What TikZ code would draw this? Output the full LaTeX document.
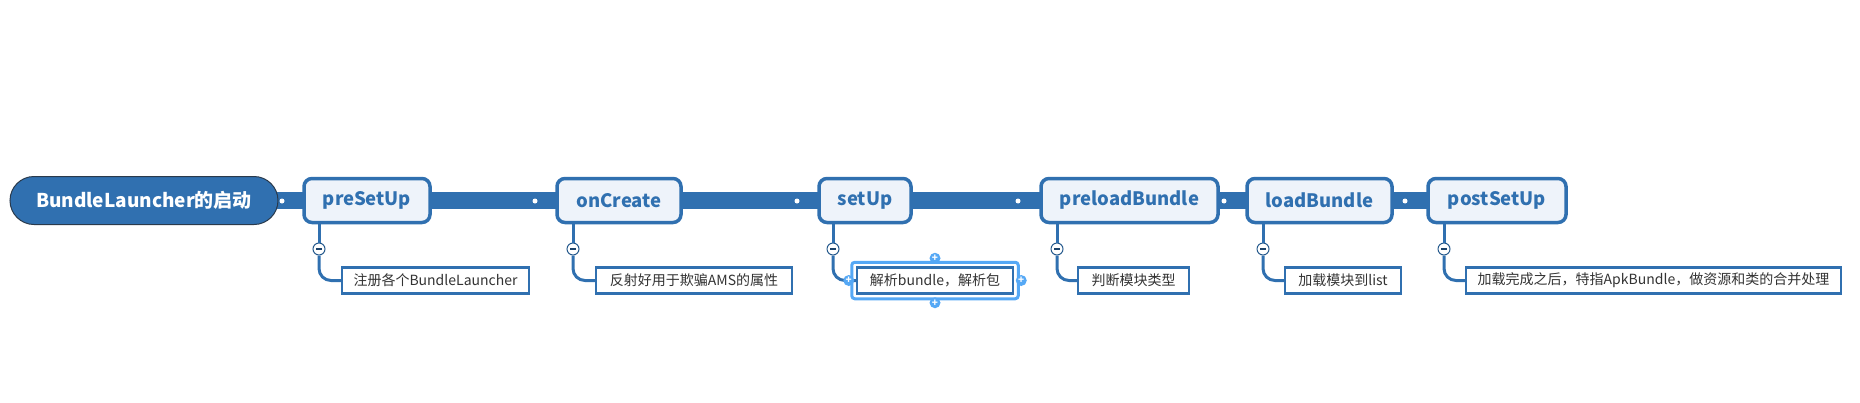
\documentclass[tikz,border=0pt]{standalone}
\usepackage{fontspec}
\setmainfont{Noto Sans CJK SC}
\usetikzlibrary{backgrounds}

\definecolor{mapblue}{HTML}{3070B0}
\definecolor{topicfill}{HTML}{EEF3FA}
\definecolor{rootline}{HTML}{2A3A4C}
\definecolor{subtext}{HTML}{333333}
\definecolor{selblue}{HTML}{55A8F5}

\tikzset{
  root/.style={draw=rootline, line width=1pt, fill=mapblue, text=white,
    font=\bfseries\fontsize{19}{22}\selectfont, rounded corners=24pt,
    minimum height=48pt, minimum width=268pt, inner sep=0pt},
  topic/.style={draw=mapblue, line width=3.5pt, fill=topicfill, text=mapblue,
    font=\bfseries\fontsize{18.5}{22}\selectfont, rounded corners=8pt,
    minimum height=44pt, inner sep=0pt},
  subtopic/.style={draw=mapblue, line width=2.5pt, fill=white, text=subtext,
    font=\fontsize{14}{17}\selectfont, minimum height=26pt, inner sep=0pt},
  trunk/.style={mapblue, line width=17pt},
  branch/.style={mapblue, line width=3pt, rounded corners=12pt},
  fold/.style={circle, draw=mapblue!80!black, line width=1pt, fill=white,
    minimum size=12pt, inner sep=0pt, text=mapblue!60!black},
  joint/.style={circle, fill=white, minimum size=5pt, inner sep=0pt},
  handle/.style={circle, fill=selblue, text=white,
    font=\bfseries\fontsize{10}{10}\selectfont, minimum size=11pt, inner sep=0pt}
}

\begin{document}
\begin{tikzpicture}[x=1pt, y=-1pt]
    \useasboundingbox (0,0) rectangle (1860,402);

    % Central topic and main topics
    \node[root] (root) at (144,200.5) {BundleLauncher的启动};
    \node[topic, minimum width=126pt] (pre) at (367,200.5) {preSetUp};
    \node[topic, minimum width=124pt] (onc) at (619,200.5) {onCreate};
    \node[topic, minimum width=92pt] (set) at (865,200.5) {setUp};
    \node[topic, minimum width=177pt] (prl) at (1129.5,200.5) {preloadBundle};
    \node[topic, minimum width=145pt] (lod) at (1319.5,200.5) {loadBundle};
    \node[topic, minimum width=138pt] (post) at (1497,200.5) {postSetUp};

    % Trunk behind the topics
    \begin{pgfonlayer}{background}
        \draw[trunk] (root.center) -- (post.center);
    \end{pgfonlayer}
    \node[joint] (j1) at (282,201) {};
    \node[joint] (j2) at (535,201) {};
    \node[joint] (j3) at (797,201) {};
    \node[joint] (j4) at (1018,201) {};
    \node[joint] (j5) at (1224,201) {};
    \node[joint] (j6) at (1405,201) {};

    % Subtopics
    \node[subtopic, minimum width=187pt] (s1) at (435.5,280.5) {注册各个BundleLauncher};
    \node[subtopic, minimum width=196pt] (s2) at (694,280.5) {反射好用于欺骗AMS的属性};
    \node[subtopic, minimum width=156pt] (s3) at (935,280.5) {解析bundle，解析包};
    \node[subtopic, minimum width=111pt] (s4) at (1133.5,280.5) {判断模块类型};
    \node[subtopic, minimum width=116pt] (s5) at (1343,280.5) {加载模块到list};
    \node[subtopic, minimum width=375pt] (s6) at (1653.5,280.5) {加载完成之后，特指ApkBundle，做资源和类的合并处理};

    % Fold markers
    \node[fold] (f1) at (319,249) {\rule{6pt}{1.4pt}};
    \node[fold] (f2) at (573,249) {\rule{6pt}{1.4pt}};
    \node[fold] (f3) at (833,249) {\rule{6pt}{1.4pt}};
    \node[fold] (f4) at (1057,249) {\rule{6pt}{1.4pt}};
    \node[fold] (f5) at (1263,249) {\rule{6pt}{1.4pt}};
    \node[fold] (f6) at (1444,249) {\rule{6pt}{1.4pt}};

    % Branches
    \draw[branch] (pre.south -| f1) -- (f1.north);
    \draw[branch] (f1.south) |- (s1.west);
    \draw[branch] (onc.south -| f2) -- (f2.north);
    \draw[branch] (f2.south) |- (s2.west);
    \draw[branch] (set.south -| f3) -- (f3.north);
    \draw[branch] (f3.south) |- (s3.west);
    \draw[branch] (prl.south -| f4) -- (f4.north);
    \draw[branch] (f4.south) |- (s4.west);
    \draw[branch] (lod.south -| f5) -- (f5.north);
    \draw[branch] (f5.south) |- (s5.west);
    \draw[branch] (post.south -| f6) -- (f6.north);
    \draw[branch] (f6.south) |- (s6.west);

    % Selection frame on s3
    \draw[selblue, line width=3pt, rounded corners=3pt]
        ([shift={(-4pt,4pt)}]s3.north west) rectangle ([shift={(4pt,-4pt)}]s3.south east);
    \node[handle] (h1) at ([yshift=8pt]s3.north) {+};
    \node[handle] (h2) at ([yshift=-8pt]s3.south) {+};
    \node[handle] (h3) at ([xshift=-7pt]s3.west) {+};
    \node[handle] (h4) at ([xshift=7pt]s3.east) {+};
\end{tikzpicture}
\end{document}
